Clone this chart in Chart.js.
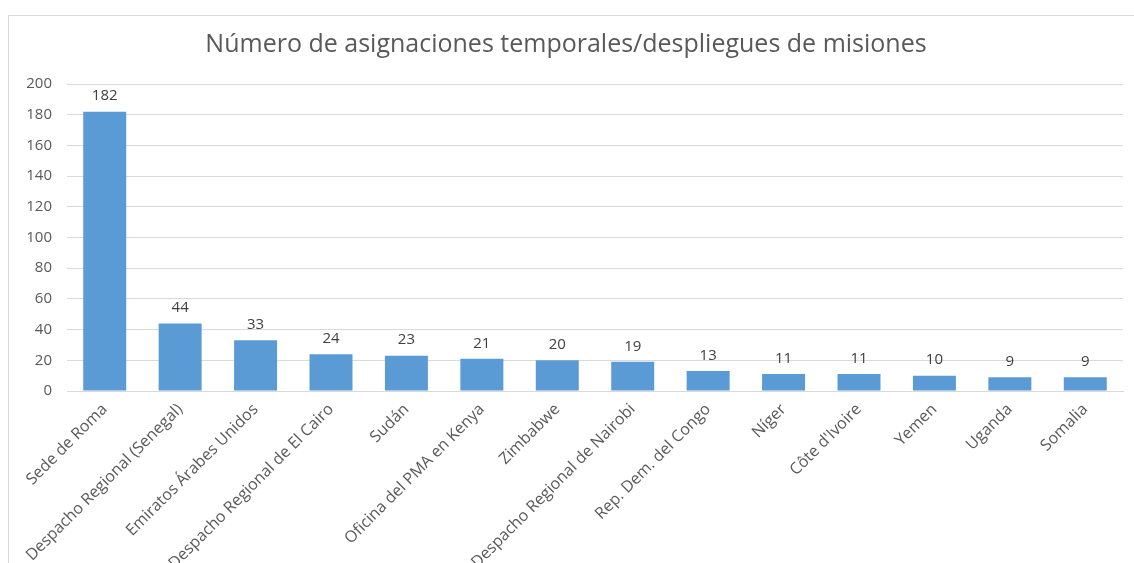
<!DOCTYPE html>
<html>
<head>
<meta charset="utf-8">
<script src="https://cdn.jsdelivr.net/npm/chart.js@4/dist/chart.umd.min.js"></script>
<style>
  html, body { margin: 0; padding: 0; background: #fff; overflow: hidden; }
  .box {
    position: absolute; left: 8px; top: 15px;
    width: 1140px; height: 560px;
    border: 1px solid #d9d9d9;
  }
  #missionsChart { display: block; }
</style>
</head>
<body>
<div class="box">
  <canvas id="missionsChart" width="1130" height="560" style="width:1130px;height:560px"></canvas>
</div>
<script>
// Chart data
const categories = ['Sede de Roma', 'Despacho Regional (Senegal)', 'Emiratos Árabes Unidos',
  'Despacho Regional de El Cairo', 'Sudán', 'Oficina del PMA en Kenya', 'Zimbabwe',
  'Despacho Regional de Nairobi', 'Rep. Dem. del Congo', 'Níger', "Côte d'Ivoire",
  'Yemen', 'Uganda', 'Somalia'];
const assignments = [182, 44, 33, 24, 23, 21, 20, 19, 13, 11, 11, 10, 9, 9];
const yTicks = [0, 20, 40, 60, 80, 100, 120, 140, 160, 180, 200];

const textColor = '#595959';
const fontFamily = "'Open Sans', sans-serif";

// draws the number above each bar
const valueLabels = {
  id: 'valueLabels',
  afterDatasetsDraw(chart) {
    const c = chart.ctx;
    const meta = chart.getDatasetMeta(0);
    c.save();
    c.font = '15px ' + fontFamily;
    c.fillStyle = '#404040';
    c.textAlign = 'center';
    c.textBaseline = 'bottom';
    meta.data.forEach((bar, i) => {
      c.fillText(assignments[i], bar.x, bar.y - 8);
    });
    c.restore();
  }
};

const ctx = document.getElementById('missionsChart').getContext('2d');
const missionsChart = new Chart(ctx, {
  type: 'bar',
  data: {
    labels: categories,
    datasets: [{
      data: assignments,
      backgroundColor: '#5b9bd5',
      borderWidth: 0,
      barPercentage: 0.57,
      categoryPercentage: 1
    }]
  },
  options: {
    responsive: false,
    animation: false,
    layout: { padding: { right: 16, left: 0, bottom: 0 } },
    plugins: {
      legend: { display: false },
      tooltip: { enabled: false },
      title: {
        display: true,
        text: 'Número de asignaciones temporales/despliegues de misiones',
        color: textColor,
        font: { family: fontFamily, size: 25, weight: 'normal' },
        padding: { top: 14, bottom: 24 }
      }
    },
    scales: {
      x: {
        grid: { display: false, drawTicks: false },
        border: { color: '#d9d9d9', width: 1 },
        ticks: {
          color: textColor,
          font: { family: fontFamily, size: 16 },
          minRotation: 45,
          maxRotation: 45,
          autoSkip: false,
          padding: 9
        },
        afterFit(scale) { scale.height = 185; }
      },
      y: {
        min: 0,
        max: 200,
        afterBuildTicks(scale) { scale.ticks = yTicks.map(v => ({ value: v })); },
        grid: { color: '#d9d9d9', drawTicks: false },
        border: { display: false },
        ticks: {
          color: textColor,
          font: { family: fontFamily, size: 15 },
          padding: 15
        },
        afterFit(scale) { scale.width = 58; }
      }
    }
  },
  plugins: [valueLabels]
});
</script>
</body>
</html>
